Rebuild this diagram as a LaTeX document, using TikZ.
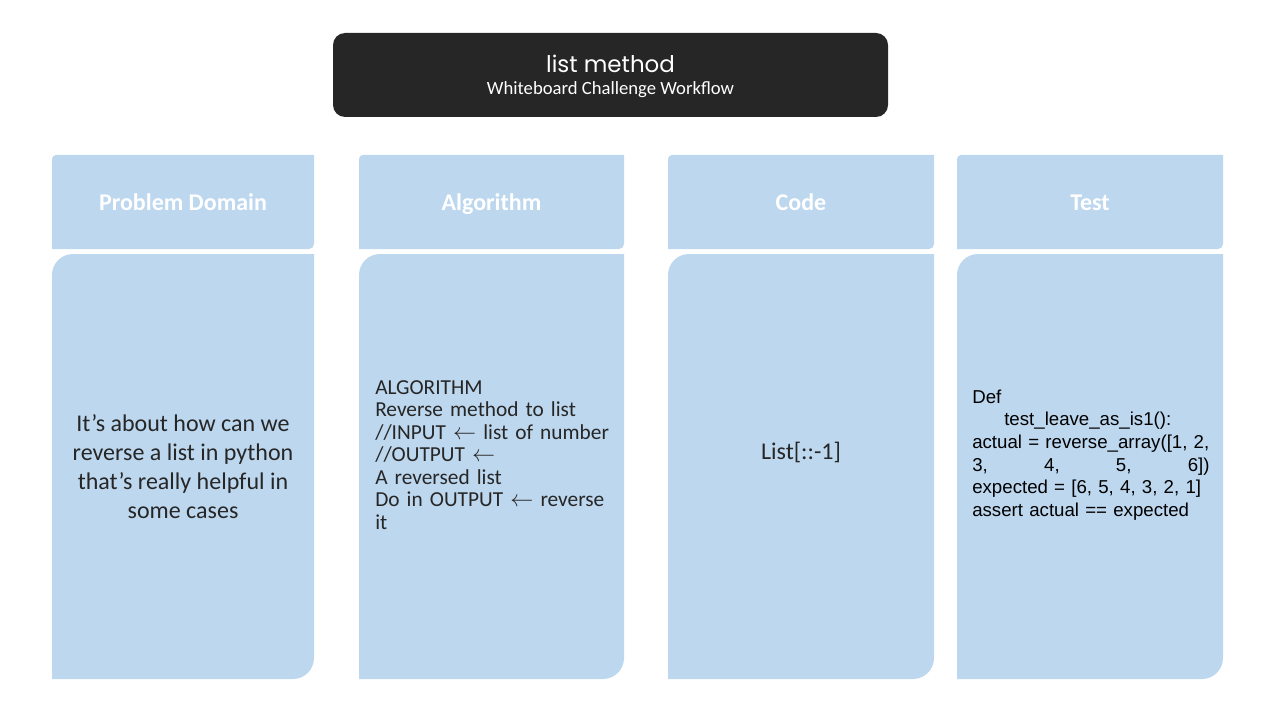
\documentclass[tikz,border=0pt]{standalone}
\usepackage{fontspec}
\setmainfont{Carlito}
\newfontfamily\arialfont{Liberation Sans}
\newfontfamily\titlefont{Poppins}
\usetikzlibrary{positioning}
\setlength{\parindent}{0pt}
\hyphenpenalty=10000
\definecolor{cardblue}{RGB}{189,215,238}
\definecolor{boardgray}{RGB}{38,38,38}
\definecolor{inkgray}{RGB}{38,38,38}
\tikzset{
  card/.style={fill=cardblue},
  banner/.style={fill=boardgray,rounded corners=9pt,minimum width=416.25pt,minimum height=63pt},
  head/.style={font=\bfseries\fontsize{18}{21.6}\selectfont,text=white,anchor=base},
  note/.style={text=inkgray,font=\fontsize{18}{21.75}\selectfont,align=center},
  algtext/.style={text=inkgray,inner sep=0pt,text width=178pt,
    font=\fontsize{16}{16.9}\selectfont},
  testtext/.style={text=black,inner sep=0pt,text width=178pt,
    font=\arialfont\fontsize{14}{17}\selectfont},
  every picture/.style={x=0.75pt,y=-0.75pt}
}
% card with rounded top-left and bottom-right corners
\newcommand{\cardpath}[6]{%
  \fill[card] (#1,#2+#5) arc[start angle=180,end angle=270,radius=#5]
    -- (#3,#2) -- (#3,#4-#6) arc[start angle=0,end angle=90,radius=#6]
    -- (#1,#4) -- cycle;}

\begin{document}
\begin{tikzpicture}
  \useasboundingbox (0,0) rectangle (1280,720);
  \node[banner] (board) at (610.5,75) {};
  \node[text=white,font=\titlefont\fontsize{17.2}{20}\selectfont] (board title) at (610.5,64) {list method};
  \node[text=white,font=\fontsize{14}{16}\selectfont] (board sub) at (610.5,90) {Whiteboard Challenge Workflow};

  \foreach \xa/\xb in {52/314,359/624,668/934,957/1223} {
    \cardpath{\xa}{155}{\xb}{249}{4}{5}
    \cardpath{\xa}{254}{\xb}{679}{21}{21}
  }

  \foreach \cx/\name/\txt in {183/pd/Problem Domain,491.5/alg/Algorithm,801/code/Code,1090/test/Test}
    \node[head] (\name head) at (\cx,211) {\txt};

  \node[note] (pd text) at (183,467) {It's about how can we\\reverse a list in python\\that's really helpful in\\some cases};
  \node[algtext,anchor=west] (alg text) at (375,455) {ALGORITHM\par
    Reverse method to list\par
    //INPUT $\leftarrow$ list of number\par
    //OUTPUT $\leftarrow$\par
    A reversed list\par
    Do in OUTPUT $\leftarrow$ reverse\linebreak it};
  \node[note] (code text) at (801,452) {List[::-1]};
  \node[testtext,anchor=west] (test text) at (972,455) {Def\par
    \hspace*{24pt}test\_leave\_as\_is1():\par
    actual = \mbox{reverse\_array([1,} 2,\par
    \hbox to \linewidth{3,\hfill 4,\hfill 5,\hfill 6])}
    expected = [6, 5, 4, 3, 2, 1]\par
    assert actual == expected};
\end{tikzpicture}
\end{document}
